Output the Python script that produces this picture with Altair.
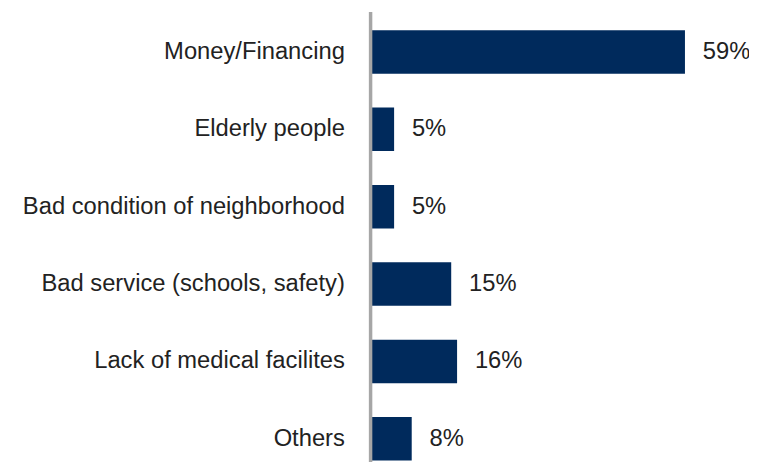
import altair as alt
import pandas as pd

categories = [
    "Money/Financing",
    "Elderly people",
    "Bad condition of neighborhood",
    "Bad service (schools, safety)",
    "Lack of medical facilites",
    "Others",
]
values = [59, 4.5, 4.5, 15.2, 16.3, 7.8]
labels = ["59%", "5%", "5%", "15%", "16%", "8%"]

df = pd.DataFrame({"category": categories, "value": values, "label": labels})

FONT = "Liberation Sans"

y = alt.Y(
    "category:N",
    sort=categories,
    scale=alt.Scale(paddingInner=0.437, paddingOuter=0.1276, align=0.95),
    axis=alt.Axis(
        title=None,
        ticks=False,
        labelFontSize=24,
        labelFont=FONT,
        labelColor="#222222",
        labelPadding=26,
        labelLimit=400,
        domainColor="#A6A6A6",
        domainWidth=3.5,
        grid=False,
        zindex=1,
    ),
)
x = alt.X("value:Q", scale=alt.Scale(domain=[0, 71]), axis=None)

bars = alt.Chart(df).mark_bar(color="#002A5C").encode(x=x, y=y)
text = alt.Chart(df).mark_text(
    align="left", baseline="middle", dx=18, fontSize=24, font=FONT, color="#222222"
).encode(x=x, y=alt.Y("category:N", sort=categories), text="label:N")

chart = (
    (bars + text)
    .properties(
        width=383,
        height=455,
        padding={"left": 366, "top": 1, "right": 0, "bottom": 0},
        autosize=alt.AutoSizeParams(type="none"),
    )
    .configure_view(stroke=None)
)

chart.save("out.html", embed_options={"renderer": "svg", "actions": False})
